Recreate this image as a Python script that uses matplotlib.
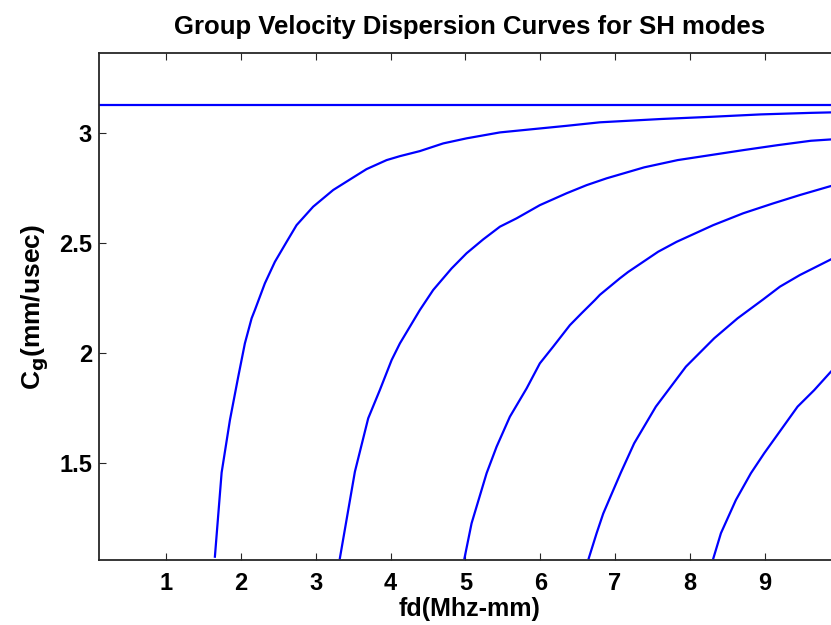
import matplotlib.pyplot as plt

# fundamental SH0 mode (non-dispersive)
sh0_fd = [0.1, 10.0]
sh0_cg = [3.13, 3.13]

# higher SH modes
sh1_fd = [1.650, 1.740, 1.851, 1.962, 2.051, 2.141, 2.185, 2.318, 2.452, 2.609, 2.742,
          2.964, 3.232, 3.499, 3.678, 3.946, 4.124, 4.391, 4.703, 5.015, 5.461, 5.906,
          6.352, 6.798, 7.613, 8.282, 8.951, 9.620, 10.0]
sh1_cg = [1.072, 1.455, 1.694, 1.891, 2.043, 2.157, 2.195, 2.316, 2.414, 2.505, 2.581,
          2.665, 2.741, 2.798, 2.836, 2.877, 2.895, 2.918, 2.953, 2.976, 3.003, 3.018,
          3.033, 3.049, 3.064, 3.074, 3.085, 3.092, 3.095]

sh2_fd = [3.321, 3.522, 3.700, 3.856, 4.013, 4.124, 4.391, 4.569, 4.815, 5.015, 5.237,
          5.461, 5.684, 5.995, 6.352, 6.620, 6.887, 7.390, 7.837, 8.282, 8.727, 9.174,
          9.619, 9.886, 10.0]
sh2_cg = [1.065, 1.459, 1.702, 1.831, 1.967, 2.043, 2.195, 2.286, 2.384, 2.453, 2.516,
          2.574, 2.612, 2.672, 2.726, 2.763, 2.794, 2.844, 2.877, 2.900, 2.923, 2.945,
          2.965, 2.971, 2.975]

sh3_fd = [4.987, 5.082, 5.283, 5.417, 5.594, 5.818, 5.995, 6.173, 6.397, 6.553, 6.731,
          6.798, 7.065, 7.176, 7.577, 7.823, 8.313, 8.714, 9.115, 9.472, 9.886, 10.0]
sh3_cg = [1.065, 1.224, 1.452, 1.573, 1.709, 1.838, 1.952, 2.028, 2.126, 2.180, 2.240,
          2.264, 2.339, 2.368, 2.460, 2.505, 2.581, 2.635, 2.680, 2.718, 2.759, 2.765]

sh4_fd = [6.649, 6.754, 6.842, 6.945, 7.078, 7.256, 7.546, 7.948, 8.326, 8.639, 8.981,
          9.205, 9.472, 9.886, 10.0]
sh4_cg = [1.065, 1.179, 1.268, 1.350, 1.455, 1.588, 1.755, 1.937, 2.066, 2.157, 2.243,
          2.301, 2.354, 2.425, 2.450]

sh5_fd = [8.315, 8.416, 8.616, 8.817, 8.995, 9.218, 9.441, 9.663, 9.886, 10.0]
sh5_cg = [1.065, 1.179, 1.330, 1.452, 1.543, 1.649, 1.755, 1.830, 1.914, 1.950]

x_ticks = [1, 2, 3, 4, 5, 6, 7, 8, 9]
y_ticks = [1.5, 2, 2.5, 3]


def plot_sh_dispersion() -> None:
    plt.rcParams["font.family"] = ["Liberation Sans", "DejaVu Sans"]
    plt.rcParams["font.weight"] = "bold"

    fig = plt.figure(figsize=(8.31, 6.25), dpi=100)
    # axes runs a little past the right edge of the picture, like the reference
    ax = fig.add_axes([0.1191, 0.104, 0.891, 0.8107])

    curves = [(sh0_fd, sh0_cg), (sh1_fd, sh1_cg), (sh2_fd, sh2_cg),
              (sh3_fd, sh3_cg), (sh4_fd, sh4_cg), (sh5_fd, sh5_cg)]
    for fd, cg in curves:
        ax.plot(fd, cg, color="#0000ff", linewidth=1.6)

    ax.set_xlim(0.1, 10.0)
    ax.set_ylim(1.057, 3.363)
    ax.set_xticks(x_ticks)
    ax.set_yticks(y_ticks)
    ax.set_yticklabels(["1.5", "2", "2.5", "3"])

    ax.tick_params(direction="in", length=5, width=0.8, top=True, right=True,
                   labelsize=17, color="#262626")
    ax.tick_params(axis="x", pad=9)
    ax.tick_params(axis="y", pad=5)
    for spine in ax.spines.values():
        spine.set_linewidth(1.3)
        spine.set_color("#262626")

    ax.set_xlabel("fd(Mhz-mm)", fontsize=18, fontweight="bold", labelpad=1)
    ax.set_ylabel(r"C$_\mathbf{g}$(mm/usec)", fontsize=19, fontweight="bold", labelpad=6)
    ax.set_title("Group Velocity Dispersion Curves for SH modes", fontsize=18.5,
                 fontweight="bold", pad=14)

    fig.savefig("out.png", dpi=100)
    plt.close(fig)


if __name__ == "__main__":
    plot_sh_dispersion()
